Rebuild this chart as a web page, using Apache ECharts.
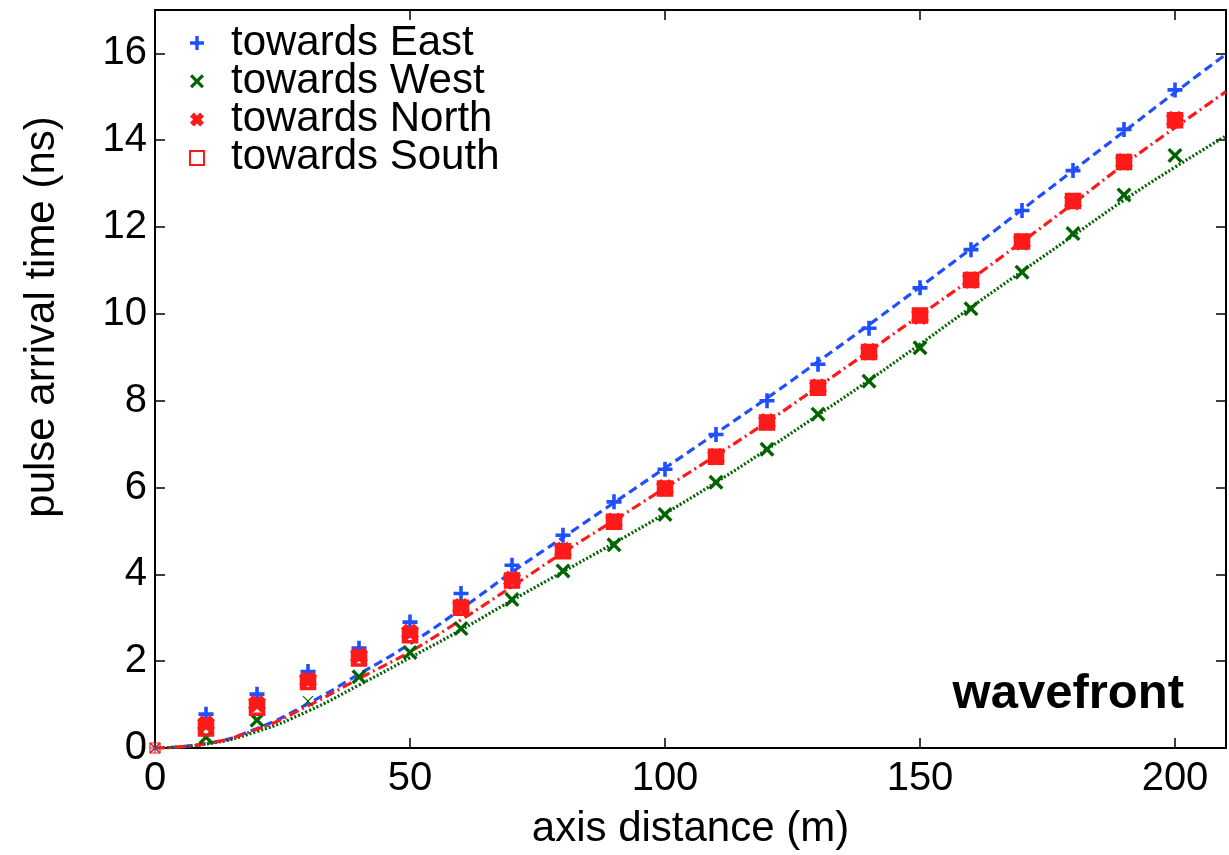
<!DOCTYPE html>
<html>
<head>
<meta charset="utf-8">
<script src="https://cdn.jsdelivr.net/npm/echarts@6/dist/echarts.min.js"></script>
<style>
html,body{margin:0;padding:0;background:#fff;}
#chart{width:1229px;height:855px;}
</style>
</head>
<body>
<div id="chart"></div>
<script>
// ---- data ----
const distances = [0,10,20,30,40,50,60,70,80,90,100,110,120,130,140,150,160,170,180,190,200];
const eastTimes  = [0,0.78,1.24,1.76,2.30,2.90,3.56,4.21,4.90,5.67,6.42,7.22,8.00,8.84,9.67,10.60,11.48,12.38,13.30,14.25,15.16];
const westTimes  = [0,0.25,0.64,1.08,1.64,2.20,2.75,3.42,4.08,4.68,5.38,6.12,6.88,7.69,8.45,9.22,10.12,10.96,11.85,12.74,13.65];
const northTimes = [0,0.55,1.02,1.56,2.12,2.66,3.25,3.88,4.55,5.22,5.99,6.71,7.51,8.31,9.13,9.95,10.78,11.66,12.59,13.50,14.47];
const southTimes = [0,0.45,0.93,1.52,2.06,2.60,3.23,3.86,4.53,5.21,5.98,6.71,7.50,8.30,9.12,9.96,10.78,11.67,12.60,13.50,14.46];

const fitDistances = [0,10,20,30,40,50,60,70,80,90,100,110,120,130,140,150,160,170,180,190,200,210];
const eastFit  = [0,0.10,0.45,1.02,1.70,2.40,3.20,4.05,4.85,5.65,6.45,7.25,8.06,8.90,9.75,10.62,11.50,12.40,13.30,14.20,15.10,15.98];
const westFit  = [0,0.09,0.38,0.85,1.45,2.08,2.72,3.40,4.06,4.72,5.40,6.12,6.88,7.67,8.47,9.30,10.15,10.98,11.80,12.62,13.38,14.10];
const nsFit    = [0,0.10,0.43,0.97,1.60,2.22,2.95,3.72,4.50,5.24,5.99,6.74,7.51,8.32,9.14,9.97,10.80,11.66,12.54,13.44,14.29,15.12];

const seriesNames = ['towards East','towards West','towards North','towards South'];
const xTicks = {min:0, max:210, interval:50};
const yTicks = {min:0, max:17, interval:2};
// points drawn with thin markers in the reference: [series index, point index]
const thinPoints = [[0,0],[1,0],[2,0],[3,0],[1,3]];

// ---- styles ----
const BLUE = '#1f4fff', GREEN = '#006400', RED = '#ff1a1a';
const FONT = '"Liberation Sans", Arial, Helvetica, sans-serif';
const plusPath  = 'path://M3.8,0H6.2V3.8H10V6.2H6.2V10H3.8V6.2H0V3.8H3.8Z';
const xPath     = 'path://M0,1.6L1.6,0L5,3.4L8.4,0L10,1.6L6.6,5L10,8.4L8.4,10L5,6.6L1.6,10L0,8.4L3.4,5Z';
const bigXPath  = 'path://M0,2.8L2.8,0L5,2.2L7.2,0L10,2.8L7.8,5L10,7.2L7.2,10L5,7.8L2.8,10L0,7.2L2.2,5Z';
const thinPlus  = 'path://M5,0V10M0,5H10';
const thinX     = 'path://M0,0L10,10M10,0L0,10';

function pairs(xs, ys){ return xs.map((x,i)=>[x, ys[i]]); }

function markerData(si, ys, color, thinSymbol){
  return distances.map((x,i)=>{
    const isThin = thinPoints.some(p=>p[0]===si && p[1]===i);
    if(!isThin) return [x, ys[i]];
    return {
      value:[x, ys[i]],
      symbol: thinSymbol,
      symbolSize: 10,
      itemStyle:{color:'none', borderColor:color, borderWidth:1.2}
    };
  });
}

const chart = echarts.init(document.getElementById('chart'), null, {renderer:'canvas'});

const axisCommon = {
  type:'value',
  axisLine:{show:true, onZero:false, lineStyle:{color:'#000', width:2}},
  axisTick:{show:true, inside:true, length:10, lineStyle:{color:'#000', width:1.5}},
  splitLine:{show:false}
};

const option = {
  animation:false,
  backgroundColor:'#fff',
  textStyle:{fontFamily:FONT},
  title:{
    text:'wavefront', right:45, top:670, padding:0,
    textStyle:{fontFamily:FONT, fontWeight:'bold', fontSize:49, color:'#000'}
  },
  grid:{left:155, right:3, top:10, bottom:101, containLabel:false},
  legend:{
    orient:'vertical', left:189, top:22, padding:0, itemGap:-3.7,
    itemWidth:14, itemHeight:14,
    data: seriesNames,
    textStyle:{fontFamily:FONT, fontSize:42, color:'#000', padding:[0,0,0,22]}
  },
  xAxis:[
    Object.assign({}, axisCommon, {
      position:'bottom', min:xTicks.min, max:xTicks.max, interval:xTicks.interval,
      name:'axis distance (m)', nameLocation:'middle', nameGap:60,
      nameTextStyle:{fontFamily:FONT, fontSize:42, color:'#000'},
      axisLabel:{show:true, showMaxLabel:false, margin:11, fontFamily:FONT, fontSize:40, color:'#000'}
    }),
    Object.assign({}, axisCommon, {
      position:'top', min:xTicks.min, max:xTicks.max, interval:xTicks.interval,
      axisLabel:{show:false}
    })
  ],
  yAxis:[
    Object.assign({}, axisCommon, {
      position:'left', min:yTicks.min, max:yTicks.max, interval:yTicks.interval,
      name:'pulse arrival time (ns)', nameLocation:'middle', nameGap:92,
      nameTextStyle:{fontFamily:FONT, fontSize:42, color:'#000', padding:[0,0,0,124]},
      axisLabel:{show:true, showMaxLabel:false, margin:8, fontFamily:FONT, fontSize:40, color:'#000'}
    }),
    Object.assign({}, axisCommon, {
      position:'right', min:yTicks.min, max:yTicks.max, interval:yTicks.interval,
      axisLabel:{show:false}
    })
  ],
  series:[
    {name:'fit East', type:'line', data:pairs(fitDistances, eastFit), smooth:true, symbol:'none', z:2,
     lineStyle:{color:BLUE, width:3.2, type:[9,5]}},
    {name:'fit West', type:'line', data:pairs(fitDistances, westFit), smooth:true, symbol:'none', z:2,
     lineStyle:{color:GREEN, width:3.2, type:[2,2]}},
    {name:'fit North/South', type:'line', data:pairs(fitDistances, nsFit), smooth:true, symbol:'none', z:2,
     lineStyle:{color:RED, width:3.2, type:[10,4,2,4]}},
    {name:seriesNames[0], type:'scatter', data:markerData(0, eastTimes, BLUE, thinPlus), z:5,
     symbol:plusPath, symbolSize:15, itemStyle:{color:BLUE, opacity:1}},
    {name:seriesNames[1], type:'scatter', data:markerData(1, westTimes, GREEN, thinX), z:5,
     symbol:xPath, symbolSize:15, itemStyle:{color:GREEN, opacity:1}},
    {name:seriesNames[2], type:'scatter', data:markerData(2, northTimes, RED, thinX), z:5,
     symbol:bigXPath, symbolSize:18, itemStyle:{color:RED, opacity:1}},
    {name:seriesNames[3], type:'scatter', data:markerData(3, southTimes, RED, 'rect'), z:5,
     symbol:'rect', symbolSize:13, itemStyle:{color:'rgba(255,255,255,0)', borderColor:RED, borderWidth:3.5, opacity:1}}
  ]
};
chart.setOption(option);
</script>
</body>
</html>
